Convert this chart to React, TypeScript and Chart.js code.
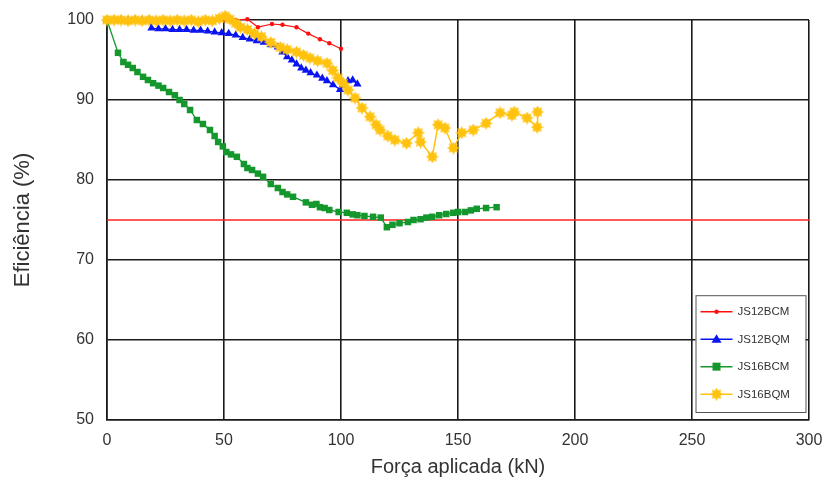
import React, { useEffect, useRef } from 'react';
import { Chart, registerables } from 'chart.js';

Chart.register(...registerables);

const seriesNames = ['JS12BCM', 'JS12BQM', 'JS16BCM', 'JS16BQM'];
const seriesColors = ['#FF1010', '#0A14F0', '#14972C', '#FFC20E'];

const js12bcmX = [0, 5, 10, 15, 20, 25, 30, 35, 40, 45, 50, 55, 60, 64.5, 70.5, 75, 81, 86, 91, 95, 100];
const js12bcmY = [100, 100, 100, 100, 100, 100, 100, 100, 100, 100, 100, 100, 100.1, 99.1, 99.5, 99.4, 99.1, 98.3, 97.6, 97.1, 96.4];

const js12bqmX = [0, 3, 6, 9, 12, 15, 18, 19, 22, 25, 28, 31, 34, 37, 40, 43, 46, 49, 52, 55, 58, 61, 64, 67, 70, 73, 75, 77, 79, 81, 83, 85, 87, 89.7, 92, 94, 96.6, 99.6, 101, 103, 105, 107];
const js12bqmY = [100, 100, 100, 100, 100, 100, 100, 99.0, 98.9, 98.9, 98.8, 98.8, 98.8, 98.7, 98.7, 98.6, 98.5, 98.4, 98.3, 98.1, 97.8, 97.6, 97.4, 97.2, 96.9, 96.6, 96.0, 95.4, 95.0, 94.5, 94.0, 93.7, 93.4, 93.1, 92.7, 92.4, 91.9, 91.3, 91.8, 92.4, 92.5, 92.0];

const js16bcmX = [0, 4.7, 7, 9, 11, 13, 15.4, 17.5, 19.7, 22, 24, 26.5, 29, 31, 33, 35.5, 38.4, 41, 44, 46, 47.5, 49.5, 51, 53, 55.5, 58.5, 60, 62, 64.5, 66.7, 70, 73, 75, 77, 79.5, 85, 87.6, 89.5, 91, 93, 95, 99, 102.5, 105, 107, 110, 113.7, 117, 119.6, 122, 125, 128.6, 131, 134, 136.5, 139, 142, 145, 148, 150, 153, 155.5, 158, 162, 166.5];
const js16bcmY = [100, 95.9, 94.75, 94.4, 94.0, 93.5, 92.9, 92.5, 92.1, 91.8, 91.5, 91.0, 90.6, 90.0, 89.5, 88.75, 87.5, 87.0, 86.25, 85.5, 84.75, 84.2, 83.5, 83.2, 82.9, 82.0, 81.5, 81.25, 80.8, 80.4, 79.5, 79.0, 78.5, 78.2, 77.9, 77.2, 76.9, 77.0, 76.6, 76.5, 76.25, 76.0, 75.9, 75.7, 75.6, 75.5, 75.4, 75.3, 74.1, 74.4, 74.6, 74.75, 75.0, 75.1, 75.3, 75.4, 75.6, 75.75, 75.9, 76.0, 76.0, 76.2, 76.4, 76.5, 76.6];

const js16bqmX = [0, 3, 6, 9, 12, 15, 18, 21, 24, 27, 30, 33, 36, 39, 42, 45, 48, 50.5, 52.5, 55, 57, 60, 63, 66, 70, 74, 77, 81, 84, 86.7, 90, 94, 96.5, 98.7, 101, 103, 106, 109, 112.4, 115, 116.7, 120, 123, 128, 133, 134, 139, 141.5, 144.4, 148, 151.6, 156.5, 162, 168, 173, 174, 179.5, 183.8, 184];
const js16bqmY = [100, 100, 100, 99.9, 100, 99.9, 100, 99.9, 100, 99.9, 100, 99.9, 100, 99.8, 100, 99.9, 100.2, 100.5, 100.1, 99.6, 99.1, 98.8, 98.3, 97.9, 97.2, 96.6, 96.3, 96.0, 95.6, 95.25, 94.9, 94.6, 93.7, 92.75, 92.1, 91.25, 90.25, 89.0, 87.9, 86.9, 86.25, 85.5, 85.0, 84.6, 85.9, 84.75, 82.9, 86.9, 86.5, 84.0, 85.9, 86.25, 87.1, 88.4, 88.1, 88.5, 87.75, 86.6, 88.5];

const limitX = [0, 300];
const limitY = [75, 75];

const xTickValues = [0, 50, 100, 150, 200, 250, 300];
const yTickValues = [50, 60, 70, 80, 90, 100];

const xTitle = 'Força aplicada (kN)';
const yTitle = 'Eficiência (%)';

const FONT = '"Liberation Sans", Arial, sans-serif';

function pts(xs: number[], ys: number[]) {
  return xs.map((x, i) => ({ x, y: ys[i] }));
}

function makeStar(color: string, size: number) {
  const c = document.createElement('canvas');
  c.width = size;
  c.height = size;
  const ctx = c.getContext('2d')!;
  const cx = size / 2;
  const cy = size / 2;
  const ro = size / 2;
  const ri = size / 2 * 0.62;
  ctx.beginPath();
  for (let i = 0; i < 16; i++) {
    const r = i % 2 === 0 ? ro : ri;
    const a = (Math.PI * 2 * i) / 16 - Math.PI / 2;
    const px = cx + r * Math.cos(a);
    const py = cy + r * Math.sin(a);
    if (i === 0) ctx.moveTo(px, py);
    else ctx.lineTo(px, py);
  }
  ctx.closePath();
  ctx.fillStyle = color;
  ctx.fill();
  return c;
}

function drawMarker(ctx: CanvasRenderingContext2D, kind: string, x: number, y: number, color: string, star: HTMLCanvasElement) {
  ctx.save();
  ctx.fillStyle = color;
  ctx.beginPath();
  if (kind === 'circle') {
    ctx.arc(x, y, 2.2, 0, Math.PI * 2);
    ctx.fill();
  } else if (kind === 'triangle') {
    ctx.moveTo(x, y - 5);
    ctx.lineTo(x + 5, y + 3.5);
    ctx.lineTo(x - 5, y + 3.5);
    ctx.closePath();
    ctx.fill();
  } else if (kind === 'rect') {
    ctx.rect(x - 4, y - 4, 8, 8);
    ctx.fill();
  } else {
    ctx.drawImage(star, x - star.width / 2, y - star.height / 2);
  }
  ctx.restore();
}

export default function App() {
  const ref = useRef<HTMLCanvasElement | null>(null);

  useEffect(() => {
    document.body.style.margin = '0';
    const canvas = ref.current;
    if (!canvas) return;
    const star = makeStar(seriesColors[3], 13);
    const markerKinds = ['circle', 'triangle', 'rect', 'star'];

    const insideLegend = {
      id: 'insideLegend',
      afterDatasetsDraw(chart: any) {
        const ctx: CanvasRenderingContext2D = chart.ctx;
        const xs = chart.scales.x;
        const ys = chart.scales.y;
        const left = xs.getPixelForValue(251.5);
        const right = xs.getPixelForValue(298.5);
        const top = ys.getPixelForValue(65.6);
        const bottom = ys.getPixelForValue(51);
        ctx.save();
        ctx.fillStyle = '#ffffff';
        ctx.fillRect(left, top, right - left, bottom - top);
        ctx.strokeStyle = '#555';
        ctx.lineWidth = 1;
        ctx.strokeRect(left + 0.5, top + 0.5, right - left, bottom - top);
        const step = (bottom - top) / 4.25;
        seriesNames.forEach((name, i) => {
          const y = top + step * (0.6 + i);
          ctx.strokeStyle = seriesColors[i];
          ctx.lineWidth = 1.5;
          ctx.beginPath();
          ctx.moveTo(left + 5, y);
          ctx.lineTo(left + 37, y);
          ctx.stroke();
          drawMarker(ctx, markerKinds[i], left + 21, y, seriesColors[i], star);
          ctx.fillStyle = '#333';
          ctx.font = `11.5px ${FONT}`;
          ctx.textBaseline = 'middle';
          ctx.textAlign = 'left';
          ctx.fillText(name, left + 42, y + 0.5);
        });
        ctx.restore();
      },
    };

    const chart = new Chart(canvas, {
      type: 'line',
      data: {
        datasets: [
          {
            label: 'limit',
            data: pts(limitX, limitY),
            borderColor: '#FF2020',
            borderWidth: 1.5,
            pointRadius: 0,
            order: 10,
            clip: false as any,
          },
          {
            label: seriesNames[0],
            data: pts(js12bcmX, js12bcmY),
            borderColor: seriesColors[0],
            backgroundColor: seriesColors[0],
            borderWidth: 1.2,
            pointStyle: 'circle',
            pointRadius: 2.2,
            pointBorderWidth: 0,
            order: 5,
            clip: false as any,
          },
          {
            label: seriesNames[1],
            data: pts(js12bqmX, js12bqmY),
            borderColor: seriesColors[1],
            backgroundColor: seriesColors[1],
            borderWidth: 1.2,
            pointStyle: 'triangle',
            pointRadius: 4.8,
            pointBorderWidth: 0,
            order: 4,
            clip: false as any,
          },
          {
            label: seriesNames[2],
            data: pts(js16bcmX, js16bcmY),
            borderColor: seriesColors[2],
            backgroundColor: seriesColors[2],
            borderWidth: 1.3,
            pointStyle: 'rect',
            pointRadius: 4.6,
            pointBorderWidth: 0,
            order: 3,
            clip: false as any,
          },
          {
            label: seriesNames[3],
            data: pts(js16bqmX, js16bqmY),
            borderColor: seriesColors[3],
            backgroundColor: seriesColors[3],
            borderWidth: 1.5,
            pointStyle: star as any,
            pointRadius: 6,
            order: 1,
            clip: false as any,
          },
        ],
      },
      options: {
        responsive: false,
        animation: false,
        layout: { padding: { top: 20, right: 16, left: 0, bottom: 0 } },
        plugins: {
          legend: { display: false },
          tooltip: { enabled: false },
        },
        scales: {
          x: {
            type: 'linear',
            min: 0,
            max: 300,
            afterFit(scale: any) {
              scale.height = 73;
              scale.paddingLeft = 0;
              scale.paddingRight = 0;
            },
            afterBuildTicks(scale: any) {
              scale.ticks = xTickValues.map((v) => ({ value: v }));
            },
            ticks: {
              color: '#333',
              font: { family: FONT, size: 16 },
              padding: 11,
              maxRotation: 0,
            },
            grid: { color: '#1a1a1a', lineWidth: 1.6, drawTicks: false },
            border: { color: '#1a1a1a', width: 1.6 },
            title: {
              display: true,
              text: xTitle,
              color: '#333',
              font: { family: FONT, size: 20 },
              padding: { top: 0, bottom: 14 },
            },
          },
          y: {
            type: 'linear',
            min: 50,
            max: 100,
            afterFit(scale: any) {
              scale.width = 107;
              scale.paddingTop = 0;
              scale.paddingBottom = 0;
            },
            afterBuildTicks(scale: any) {
              scale.ticks = yTickValues.map((v) => ({ value: v }));
            },
            ticks: {
              color: '#333',
              font: { family: FONT, size: 16 },
              padding: 13,
            },
            grid: { color: '#1a1a1a', lineWidth: 1.6, drawTicks: false },
            border: { color: '#1a1a1a', width: 1.6 },
            title: {
              display: true,
              text: yTitle,
              color: '#333',
              font: { family: FONT, size: 22 },
              padding: { top: 10, bottom: 0 },
            },
          },
        },
      },
      plugins: [insideLegend],
    } as any);

    return () => {
      chart.destroy();
    };
  }, []);

  return (
    <div style={{ position: 'fixed', left: 0, top: 0, width: 825, height: 493, background: '#fff' }}>
      <canvas ref={ref} width={825} height={493} />
    </div>
  );
}
